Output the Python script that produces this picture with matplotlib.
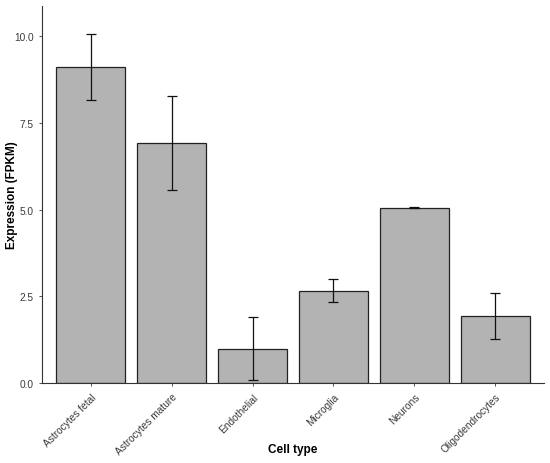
import matplotlib
matplotlib.use('Agg')
import matplotlib.pyplot as plt
import numpy as np

plt.rcParams['font.family'] = ['Liberation Sans', 'DejaVu Sans']

cell_types = ['Astrocytes fetal', 'Astrocytes mature', 'Endothelial',
              'Microglia', 'Neurons', 'Oligodendrocytes']
expression = [9.12, 6.93, 0.99, 2.66, 5.06, 1.94]
err_low = [8.17, 5.57, 0.09, 2.33, 5.05, 1.27]
err_high = [10.08, 8.28, 1.91, 2.99, 5.07, 2.59]

x = np.arange(len(cell_types))
yerr = [np.array(expression) - np.array(err_low),
        np.array(err_high) - np.array(expression)]

fig = plt.figure(figsize=(5.5, 4.64), dpi=100)
ax = fig.add_axes([0.0764, 0.1724, 0.9126, 0.8126])

ax.bar(x, expression, width=0.85, color='#b3b3b3', edgecolor='#222222',
       linewidth=0.9, zorder=2)
ax.errorbar(x, expression, yerr=yerr, fmt='none', ecolor='#111111',
            elinewidth=0.9, capsize=3.3, capthick=0.9, zorder=3)

ax.set_xlim(-0.6, len(cell_types) - 0.4)
ax.set_ylim(0, 10.88)
ax.set_yticks([0, 2.5, 5.0, 7.5, 10.0])
ax.set_yticklabels(['0.0', '2.5', '5.0', '7.5', '10.0'])
ax.set_xticks(x)
ax.set_xticklabels(cell_types, rotation=45, ha='right', rotation_mode='anchor')

ax.tick_params(axis='both', labelsize=7.3, labelcolor='#3a3a3a', color='#333333',
               length=2.5, width=0.6)
for s in ['top', 'right']:
    ax.spines[s].set_visible(False)
for s in ['left', 'bottom']:
    ax.spines[s].set_color('#333333')
    ax.spines[s].set_linewidth(0.8)

ax.set_ylabel('Expression (FPKM)', fontsize=8.5, fontweight='bold')
ax.set_xlabel('Cell type', fontsize=8.5, fontweight='bold')
ax.yaxis.set_label_coords(-0.047, 0.5)
ax.xaxis.set_label_coords(0.5, -0.16)

fig.savefig('out.png', dpi=100)
